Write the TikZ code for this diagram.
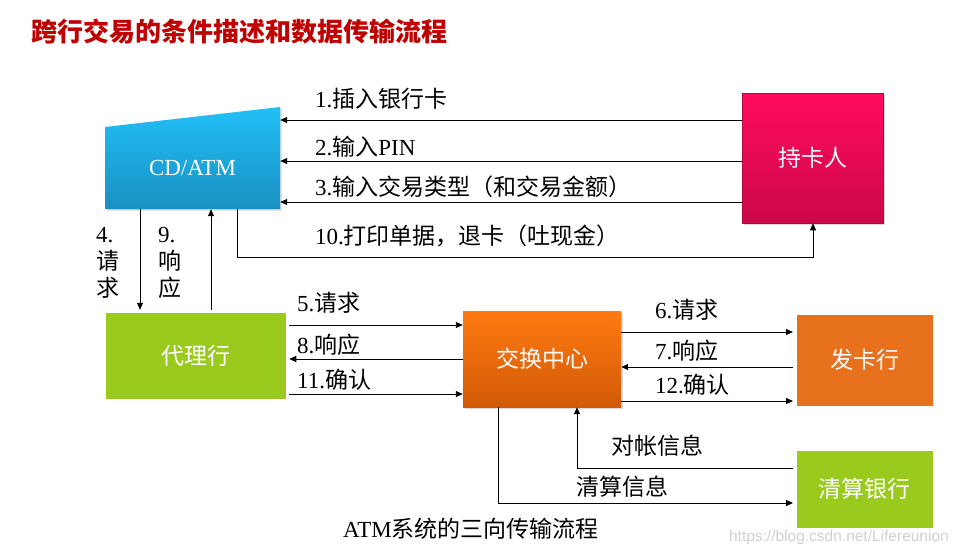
\documentclass[tikz,border=0pt]{standalone}
\usepackage{fontspec}
\setmainfont{Liberation Serif}
\newfontfamily\cjk{Noto Sans CJK SC}
\newfontfamily\wmfont{Liberation Sans}
\usetikzlibrary{arrows.meta,shadows,calc}
\definecolor{titlered}{HTML}{C00000}
\definecolor{atmtop}{HTML}{22C0F7}
\definecolor{atmbot}{HTML}{1990C2}
\definecolor{holdtop}{HTML}{FF0B5D}
\definecolor{holdbot}{HTML}{CC0849}
\definecolor{holdedge}{HTML}{B00740}
\definecolor{hubtop}{HTML}{FF7A12}
\definecolor{hubbot}{HTML}{D25A06}
\definecolor{greenbox}{HTML}{9BCA1F}
\definecolor{orangebox}{HTML}{E8711E}
\newcommand\zh[1]{{\cjk #1}}
\begin{document}
\begin{tikzpicture}[x=1pt,y=-1pt,
  arr/.style={-{Triangle[length=7pt,width=6pt]}, line width=0.9pt, black},
  ln/.style={line width=0.9pt, black},
  lbl/.style={font=\fontsize{23}{27}\selectfont, inner sep=0pt, anchor=west},
  boxtxt/.style={text=white, font=\cjk\fontsize{23}{27}\selectfont, inner sep=0pt},
  wbox/.style={draw=white, line width=3.5pt, drop shadow={opacity=0.35,shadow xshift=1.5pt,shadow yshift=-1.5pt}},
]
\useasboundingbox (0,0) rectangle (957,555);
\fill[white] (0,0) rectangle (957,555);

% title
\node[anchor=west, text=titlered, font=\cjk\bfseries\fontsize{26}{30}\selectfont, inner sep=0pt] (title) at (31,32) {跨行交易的条件描述和数据传输流程};

% CD/ATM
\shade[top color=atmtop, bottom color=atmbot, drop shadow={opacity=0.3,shadow xshift=1.5pt,shadow yshift=-1.5pt}] (105,127) -- (280,107) -- (280,209) -- (105,209) -- cycle;
\node[minimum width=175pt, minimum height=82pt, inner sep=0pt, text=white, font=\fontsize{23}{27}\selectfont] (atm) at (192.5,168) {CD/ATM};

% boxes
\node[boxtxt, minimum width=141pt, minimum height=130pt, top color=holdtop, bottom color=holdbot, draw=holdedge, line width=0.6pt, drop shadow={opacity=0.3,shadow xshift=1.5pt,shadow yshift=-1.5pt}] (holder) at (812.5,158) {持卡人};
\node[boxtxt, wbox, fill=greenbox, minimum width=183pt, minimum height=89pt] (agent) at (196,356) {代理行};
\node[boxtxt, minimum width=158pt, minimum height=96pt, top color=hubtop, bottom color=hubbot, drop shadow={opacity=0.3,shadow xshift=1.5pt,shadow yshift=-1.5pt}] (hub) at (542,359) {交换中心};
\node[boxtxt, wbox, fill=orangebox, minimum width=139.5pt, minimum height=94.5pt] (issuer) at (864.5,360) {发卡行};
\node[boxtxt, wbox, fill=greenbox, minimum width=139.5pt, minimum height=80.5pt] (clear) at (864.5,489) {清算银行};

% holder -> ATM
\draw[arr] (holder.west |- 0,120) -- (atm.east |- 0,120);
\draw[arr] (holder.west |- 0,161) -- (atm.east |- 0,161);
\draw[arr] (holder.west |- 0,202) -- (atm.east |- 0,202);
\coordinate (c10a) at (237,257);
\coordinate (c10b) at (813,257);
\draw[arr] (atm.south -| c10a) -- (c10a) -- (c10b) -- (holder.south -| c10b);

\node[lbl] (l1) at (315,99) {1.\zh{插入银行卡}};
\node[lbl] (l2) at (315,147) {2.\zh{输入}PIN};
\node[lbl] (l3) at (315,187) {3.\zh{输入交易类型（和交易金额）}};
\node[lbl] (l10) at (315,236) {10.\zh{打印单据，退卡（吐现金）}};

% ATM <-> agent
\draw[arr] (atm.south -| 140,0) -- (agent.north -| 140,0);
\draw[arr] (agent.north -| 211,0) -- (atm.south -| 211,0);
\node[lbl, anchor=north west, align=left] (l4) at (96,227) {4.\\\zh{请}\\\zh{求}};
\node[lbl, anchor=north west, align=left] (l9) at (158,227) {9.\\\zh{响}\\\zh{应}};

% agent <-> hub
\draw[arr] (agent.east |- 0,325) -- (hub.west |- 0,325);
\draw[arr] (hub.west |- 0,359) -- (agent.east |- 0,359);
\draw[arr] (agent.east |- 0,394) -- (hub.west |- 0,394);
\node[lbl] (l5) at (297,303) {5.\zh{请求}};
\node[lbl] (l8) at (297,345) {8.\zh{响应}};
\node[lbl] (l11) at (297,380) {11.\zh{确认}};

% hub <-> issuer
\draw[arr] (hub.east |- 0,332) -- (issuer.west |- 0,332);
\draw[arr] (issuer.west |- 0,367) -- (hub.east |- 0,367);
\draw[arr] (hub.east |- 0,401) -- (issuer.west |- 0,401);
\node[lbl] (l6) at (655,310) {6.\zh{请求}};
\node[lbl] (l7) at (655,351) {7.\zh{响应}};
\node[lbl] (l12) at (655,385) {12.\zh{确认}};

% hub <-> clearing bank
\coordinate (dz) at (577,468);
\draw[arr] (clear.west |- dz) -- (dz) -- (hub.south -| dz);
\coordinate (qs) at (498,503);
\draw[arr] (hub.south -| qs) -- (qs) -- (clear.west |- qs);
\node[lbl] (ldz) at (611,446) {\zh{对帐信息}};
\node[lbl] (lqs) at (576,487) {\zh{清算信息}};

% caption
\node[font=\fontsize{23}{27}\selectfont, inner sep=0pt] (cap) at (471,529) {ATM\zh{系统的三向传输流程}};
\node[anchor=east, inner sep=0pt, text=black!18, font=\wmfont\fontsize{15.5}{18}\selectfont] (wm) at (949,537) {https://blog.csdn.net/Lifereunion};
\end{tikzpicture}
\end{document}
